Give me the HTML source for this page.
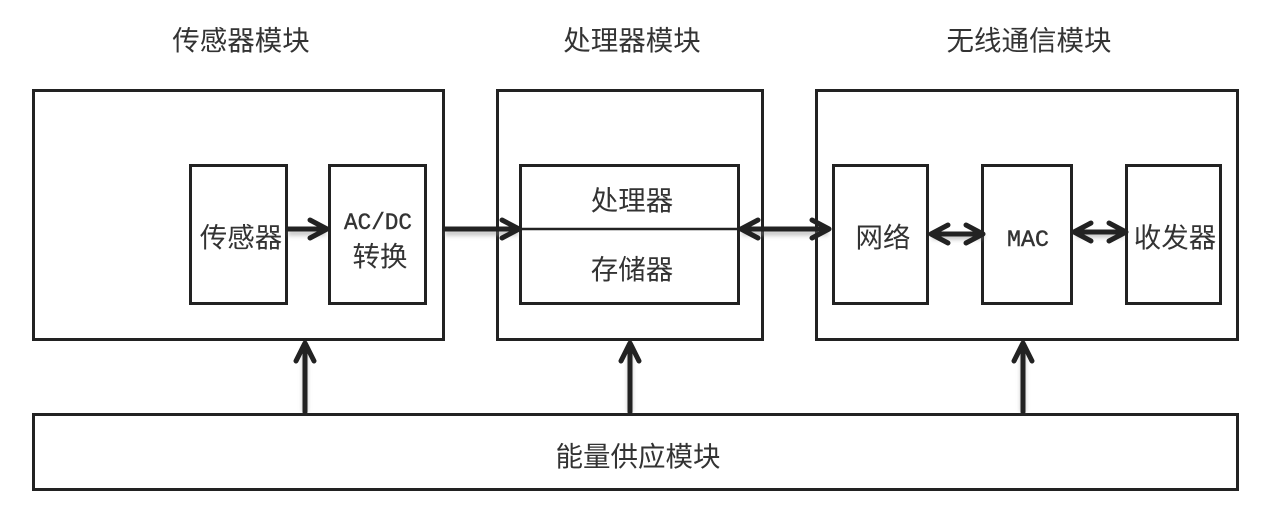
<!DOCTYPE html>
<html><head><meta charset="utf-8"><style>
html,body{margin:0;padding:0;background:#fff}
svg{display:block}
text{font-family:"Liberation Sans","WenQuanYi Zen Hei","Noto Sans CJK SC",sans-serif;fill:#333;text-anchor:middle}
.m{font-family:"Liberation Mono","Noto Sans CJK SC",monospace;stroke:#333;stroke-width:.4}
.b{fill:#fff;stroke:#222;stroke-width:3}
.l{fill:none;stroke:#222;stroke-width:5;stroke-linecap:round;stroke-linejoin:round}
.s{fill:none;stroke:#888;stroke-width:5;opacity:.5;filter:url(#bl)}
</style></head><body>
<svg width="1262" height="520" viewBox="0 0 1262 520" xmlns="http://www.w3.org/2000/svg">
<defs><filter id="bl" x="0" y="0" width="1262" height="520" filterUnits="userSpaceOnUse" primitiveUnits="userSpaceOnUse"><feGaussianBlur stdDeviation="2"/></filter></defs>
<rect width="1262" height="520" fill="#fff"/>
<text x="241" y="50" font-size="27.5">传感器模块</text>
<text x="632" y="50" font-size="27.5">处理器模块</text>
<text x="1029" y="50" font-size="27.500">无线通信模块</text>

<rect class="b" x="33.500" y="90.500" width="410" height="249"/>
<rect class="b" x="497.500" y="90.500" width="265" height="249"/>
<rect class="b" x="816.500" y="90.500" width="421" height="249"/>
<rect class="b" x="33.500" y="414.500" width="1204" height="75"/>

<rect class="b" x="190.500" y="165.500" width="96" height="138"/>
<rect class="b" x="329.500" y="165.500" width="96" height="138"/>
<rect class="b" x="520.500" y="165.500" width="218" height="138"/>
<line x1="520" y1="229" x2="738" y2="229" stroke="#222" stroke-width="2.500"/>
<rect class="b" x="833.500" y="165.500" width="94" height="138"/>
<rect class="b" x="982.500" y="165.500" width="89" height="138"/>
<rect class="b" x="1126.500" y="165.500" width="94" height="138"/>

<g class="s">
<path d="M288 233H326M445 233H518M742 233H828M932 237H984M1076 235H1124M305 412V346M630 412V346M1023 412V346"/>
</g>
<g class="l">
<path d="M288 229H327M310 220L327 229L310 238"/>
<path d="M445 229H519M502 220L519 229L502 238"/>
<path d="M741 229H829M758 220L741 229L758 238M812 220L829 229L812 238"/>
<path d="M931 234H983M948 225L931 234L948 243M966 225L983 234L966 243"/>
<path d="M1074 232H1126M1091 223L1074 232L1091 241M1109 223L1126 232L1109 241"/>
<path d="M305 412V343M296 361L305 343L314 361"/>
<path d="M630 412V343M621 361L630 343L639 361"/>
<path d="M1023 412V343M1014 361L1023 343L1032 361"/>
</g>

<text x="241" y="247" font-size="27.500">传感器</text>
<text class="m" x="378" y="229" font-size="23" textLength="68" lengthAdjust="spacingAndGlyphs">AC/DC</text>
<text x="380" y="266" font-size="27.500">转换</text>
<text x="632" y="210" font-size="27.500">处理器</text>
<text x="632" y="279" font-size="27.500">存储器</text>
<text x="883" y="247" font-size="27.500">网络</text>
<text class="m" x="1028" y="246" font-size="23" textLength="42" lengthAdjust="spacingAndGlyphs">MAC</text>
<text x="1175" y="247" font-size="27.500">收发器</text>
<text x="638" y="466" font-size="27.500">能量供应模块</text>
</svg>
</body></html>
